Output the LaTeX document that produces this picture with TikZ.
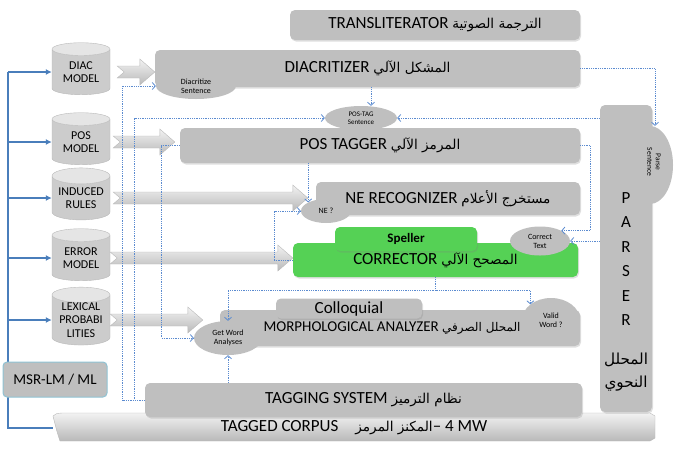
\documentclass[tikz,border=0pt]{standalone}
\usepackage{fontspec}
\setmainfont{Carlito}
\newfontfamily\arabicfont[Script=Arabic,Scale=0.8]{DejaVu Sans}
\TeXXeTstate=1
\usepackage{tikz}
\usetikzlibrary{arrows.meta,calc,shapes.geometric,shadows}
\definecolor{BoxGray}{HTML}{BFBFBF}
\definecolor{CorrGreen}{HTML}{55D155}
\definecolor{BusBlue}{HTML}{4A7EBB}
\definecolor{FlowBlue}{HTML}{5B8BD0}
\definecolor{MsrEdge}{HTML}{8FC3D4}
\newcommand{\ar}[1]{{\arabicfont\beginR #1\endR}}
\newcommand{\fatarrow}[2]{%
  \path[fatarrow] let \p1=(#1), \p2=(#2) in
    (\x1,\y1+6pt) -- (\x2-15pt,\y1+6pt) -- (\x2-15pt,\y1+13pt) -- (\x2,\y1)
    -- (\x2-15pt,\y1-13pt) -- (\x2-15pt,\y1-6pt) -- (\x1,\y1-6pt)
    -- (\x1+7pt,\y1) -- cycle;}

\begin{document}
\begin{tikzpicture}[x=1pt,y=-1pt,>=Latex]
  \tikzset{module/.style={fill=BoxGray,rounded corners=5pt,inner sep=0pt,
      font=\fontsize{17}{19}\selectfont,
      drop shadow={shadow xshift=1pt,shadow yshift=-1.5pt,opacity=0.25}},
    bump/.style={ellipse,fill=BoxGray,inner sep=0pt,align=center,
      font=\fontsize{8}{9}\selectfont},
    model/.style={cylinder,shape border rotate=90,aspect=0.35,draw=gray!55,
      cylinder uses custom fill,cylinder body fill=gray!40,cylinder end fill=gray!20,
      minimum width=58pt,minimum height=52pt,inner sep=0pt,align=center,
      font=\fontsize{12}{13.5}\selectfont},
    fatarrow/.style={top color=gray!10,bottom color=gray!55,draw=gray!55,line width=0.4pt},
    bus/.style={BusBlue,line width=1.6pt},
    flow/.style={FlowBlue,densely dotted,line width=0.8pt,
      -{Straight Barb[length=3pt,width=7pt]}}}
  \useasboundingbox (0,0) rectangle (679,451);

  \path[fatarrow] (53,416) .. controls (56,413.5) .. (62,413) -- (650,413) -- (655,416)
    -- (655,438) -- (650,441) -- (60,441) .. controls (57,432) .. (53,416);
  \node[font=\fontsize{17}{19}\selectfont,minimum width=602pt,minimum height=28pt,
    inner sep=0pt] (corpus) at (354,428) {TAGGED CORPUS\quad\ar{المكنز المرمز}– 4 MW};

  \node[model] (diacm) at (81,72) {DIAC\\MODEL};
  \node[model] (posm) at (81,142) {POS\\MODEL};
  \node[model] (indm) at (81,198) {INDUCED\\RULES};
  \node[model] (errm) at (81,258) {ERROR\\MODEL};
  \node[model] (lexm) at (81,320) {LEXICAL\\PROBABI\\LITIES};

  \coordinate (busTop) at (8,0 |- diacm.west);
  \coordinate (busBot) at (8,0 |- corpus.west);
  \draw[bus] (busTop) -- (busBot) -- (corpus.west);
  \foreach \m in {diacm,posm,indm,errm,lexm}
    \draw[bus,-{Latex[length=6pt,width=6pt]}] (busTop |- \m.west) -- (\m.west);
  \node[fill=BoxGray,draw=MsrEdge,line width=1pt,rounded corners=4pt,
    minimum width=104pt,minimum height=35pt,font=\fontsize{15}{17}\selectfont]
    (msr) at (55,379.5) {MSR-LM / ML};

  \node[module,minimum width=290pt,minimum height=30pt] (translit) at (435,25)
    {TRANSLITERATOR \ar{الترجمة الصوتية}};
  \node[module,minimum width=425pt,minimum height=37pt] (diacr) at (367.5,68.5)
    {DIACRITIZER \ar{المشكل الآلي}};
  \node[bump,minimum width=80pt,minimum height=26pt] (diacsent) at (196,86)
    {Diacritize\\Sentence};
  \node[bump,minimum width=72pt,minimum height=24pt,font=\fontsize{7}{8}\selectfont]
    (postag) at (361,118) {POS-TAG\\Sentence};
  \node[module,minimum width=400pt,minimum height=35pt] (postagger) at (380,145.5)
    {POS TAGGER \ar{المرمز الآلي}};
  \node[module,minimum width=264pt,minimum height=33pt] (nerec) at (448,198.5)
    {NE RECOGNIZER \ar{مستخرج الأعلام}};
  \node[bump,minimum width=50pt,minimum height=24pt] (neq) at (326,211) {NE ?};
  \node[module,fill=CorrGreen,minimum width=285pt,minimum height=34pt] (corrector)
    at (435.5,260) {CORRECTOR \ar{المصحح الآلي}};
  \node[module,fill=CorrGreen,minimum width=142pt,minimum height=24pt,
    font=\bfseries\fontsize{13}{15}\selectfont] (speller) at (406,239) {Speller};
  \node[bump,minimum width=60pt,minimum height=29pt] (correct) at (540,241)
    {Correct\\Text};
  \node[module,minimum width=360pt,minimum height=36pt,
    font=\fontsize{15}{17}\selectfont] (morph) at (400,328)
    {MORPHOLOGICAL ANALYZER \ar{المحلل الصرفي}\hspace*{16pt}};
  \node[bump,minimum width=68pt,minimum height=34pt] (getword) at (228,338)
    {Get Word\\Analyses};
  \node[bump,minimum width=58pt,minimum height=44pt] (validq) at (551,320)
    {Valid\\Word ?};
  \node[module,minimum width=146pt,minimum height=20pt] (colloq) at (349,308.5)
    {Colloquial};
  \node[module,minimum width=437pt,minimum height=34pt] (tagging) at (363.5,400)
    {TAGGING SYSTEM \ar{نظام الترميز}};
  \node[module,minimum width=52pt,minimum height=307pt] (parser) at (626,258.5) {};
  \node[bump,minimum width=46pt,minimum height=78pt] (parsesent) at (650,165) {};
  \node[rotate=-90,align=center,font=\fontsize{7.5}{8.5}\selectfont] (parsetxt)
    at (654,162) {Parse\\Sentence};
  \node[align=center,font=\fontsize{17}{24.5}\selectfont] (parsename) at (626,259)
    {P\\A\\R\\S\\E\\R};
  \node[align=center,font=\fontsize{19}{23}\selectfont] (parsear) at (626,372)
    {\ar{المحلل}\\\ar{النحوي}};

  \fatarrow{[xshift=7pt]diacm.east}{diacr.west}
  \fatarrow{[xshift=3pt]posm.east}{[xshift=-5pt]postagger.west}
  \fatarrow{[xshift=3pt]indm.east}{[xshift=7pt]neq.west}
  \fatarrow{errm.east}{corrector.west}
  \fatarrow{lexm.east}{[xshift=9pt]getword.west}

  \draw[flow] (tagging.west) -- ++(-22,0) |- (diacsent.west);
  \draw[flow] (tagging.west) -- ++(-10,0) |- (postag.west);
  \draw[flow] (postagger.west) -- ++(-18,0) |- (getword.west);
  \draw[flow] ([xshift=10pt]postag.north |- diacr.south) -- ([xshift=10pt]postag.north);
  \draw[flow] (diacr.east) -| ([xshift=5pt]parsesent.north);
  \draw[flow] (parser.west |- postag.east) -- (postag.east);
  \draw[flow] (postagger.south -| neq.north west) -- (neq.north west);
  \draw[flow] (postagger.east) -- ++(10,0) |- (correct.north east);
  \draw[flow] (parser.west |- correct.east) -- (correct.east);
  \draw[flow] (corrector.west) -- ++(-18,0) |- (neq.west);
  \coordinate (split) at ($(corrector.south)+(0,13)$);
  \draw[flow] (corrector.south) -- (split) -| (getword.north);
  \draw[flow] (split) -| (validq.north west);
  \draw[flow] (tagging.north -| getword.south) -- (getword.south);
\end{tikzpicture}
\end{document}
